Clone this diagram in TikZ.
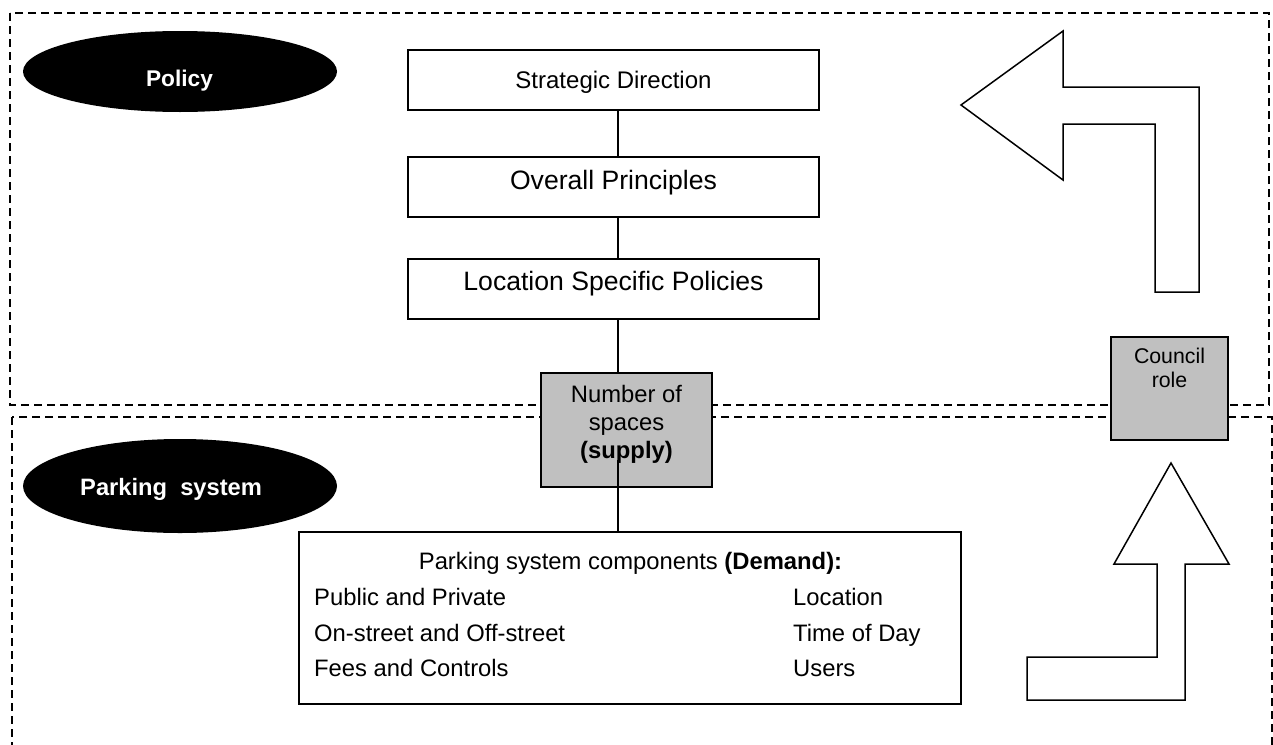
\documentclass[tikz,border=0pt]{standalone}
\usepackage{fontspec}
\setmainfont{Liberation Sans}
\usetikzlibrary{shapes.geometric}
\definecolor{boxgray}{RGB}{192,192,192}
\begin{document}
\begin{tikzpicture}[x=1pt,y=-1pt,
  region/.style={draw,dash pattern=on 8pt off 5pt,line width=1.3pt},
  stepbox/.style={draw,line width=1.6pt,fill=white,inner sep=0pt},
  graybox/.style={draw,line width=1.6pt,fill=boxgray,inner sep=0pt},
  blob/.style={ellipse,fill=black,inner sep=0pt,minimum width=314pt},
  txt/.style={inner sep=0pt,anchor=base},
  link/.style={draw,line width=1.6pt},
  bigarrow/.style={draw,line width=1.5pt,fill=white,line join=miter}]
\useasboundingbox (0,0) rectangle (1273,744);
% regions
\draw[region] (10,13) rectangle (1269,405);
\draw[region] (12,417) rectangle (1272,770);
% ellipses
\node[blob,minimum height=81pt] (pol) at (180,71.5) {};
\node[txt,text=white,font=\fontsize{22.7}{26}\selectfont\bfseries] (polt) at (179.5,86) {Policy};
\node[blob,minimum height=94pt] (park) at (180,486) {};
\node[txt,anchor=base west,text=white,font=\fontsize{23.7}{27}\selectfont\bfseries] (parkt) at (80,495) {Parking\ \ system};
% policy column
\node[stepbox,minimum width=411pt,minimum height=60pt] (sd) at (613.5,80) {};
\node[txt,font=\fontsize{24}{28}\selectfont] (sdt) at (613.5,88) {Strategic Direction};
\node[stepbox,minimum width=411pt,minimum height=60pt] (op) at (613.5,187) {};
\node[txt,font=\fontsize{26.6}{30}\selectfont] (opt) at (613.5,189) {Overall Principles};
\node[stepbox,minimum width=411pt,minimum height=60pt] (lp) at (613.5,289) {};
\node[txt,font=\fontsize{26.6}{30}\selectfont] (lpt) at (613.5,290) {Location Specific Policies};
\draw[link] (sd.south -| 618,0) -- (op.north -| 618,0);
\draw[link] (op.south -| 618,0) -- (lp.north -| 618,0);
% supply box
\node[graybox,minimum width=171pt,minimum height=114pt] (ns) at (626.5,430) {};
\node[inner sep=0pt,align=center,font=\fontsize{23.8}{28}\selectfont] (nst) at (626.5,424) {Number of\\spaces\\\textbf{(supply)}};
\draw[link] (lp.south -| 618,0) -- (ns.north -| 618,0);
% council role
\node[graybox,minimum width=117pt,minimum height=103pt] (cr) at (1169.5,388.5) {};
\node[inner sep=0pt,align=center,font=\fontsize{21.3}{24}\selectfont] (crt) at (1169.5,368) {Council\\role};
% demand box
\node[stepbox,minimum width=662pt,minimum height=172pt] (pc) at (630,618) {};
\coordinate (nsin) at (618,460);
\draw[link] (nsin) -- (pc.north -| nsin);
\begin{scope}[font=\fontsize{23.8}{28}\selectfont]
\node[txt] (pct) at (630.5,569) {Parking system components \textbf{(Demand):}};
\node[txt,anchor=base west] (r1) at (314,605) {Public and Private};
\node[txt,anchor=base west] (r2) at (314,641) {On-street and Off-street};
\node[txt,anchor=base west] (r3) at (314,676) {Fees and Controls};
\node[txt,anchor=base west] (q1) at (793,605) {Location};
\node[txt,anchor=base west] (q2) at (793,641) {Time of Day};
\node[txt,anchor=base west] (q3) at (793,676) {Users};
\end{scope}
% arrows
\draw[bigarrow] (961,105) -- (1063,31) -- (1063,87) -- (1199,87) -- (1199,292) -- (1155,292) -- (1155,124) -- (1063,124) -- (1063,180) -- cycle;
\draw[bigarrow] (1171,463) -- (1229,564) -- (1185,564) -- (1185,700) -- (1027,700) -- (1027,657) -- (1157,657) -- (1157,564) -- (1114,564) -- cycle;
\end{tikzpicture}
\end{document}
